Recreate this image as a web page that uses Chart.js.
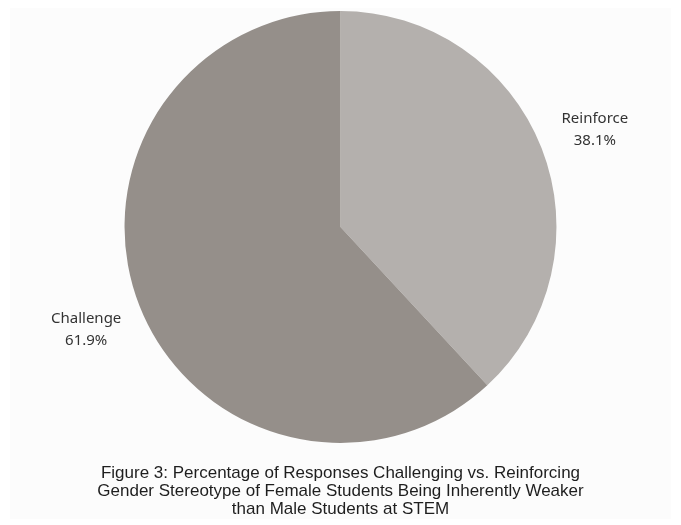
<!DOCTYPE html>
<html>
<head>
<meta charset="utf-8">
<script src="https://cdn.jsdelivr.net/npm/chart.js@4"></script>
<style>
  html, body { margin: 0; padding: 0; background: #ffffff; }
  #wrap { width: 681px; height: 525px; position: relative; }
  #chart { display: block; }
</style>
</head>
<body>
<div id="wrap"><canvas id="chart" width="681" height="525"></canvas></div>
<script>
// responses to the gender stereotype prompt, in percent
const sliceLabels = ["Reinforce", "Challenge"];
const sliceValues = [38.1, 61.9];
const sliceColors = ["#b4b0ad", "#958f8a"];

const titleLines = [
    "Figure 3: Percentage of Responses Challenging vs. Reinforcing",
    "Gender Stereotype of Female Students Being Inherently Weaker",
    "than Male Students at STEM",
];

// very faint off-white panel behind everything, inset a little from the edge
const panelBg = {
    id: "panelBg",
    beforeDraw(chart) {
        const ctx = chart.ctx;
        ctx.save();
        ctx.fillStyle = "#fcfcfc";
        ctx.fillRect(10, 8, chart.width - 20, chart.height - 14);
        ctx.restore();
    },
};

// name + percent outside each slice, along its mid angle
const outsideLabels = {
    id: "outsideLabels",
    afterDatasetsDraw(chart) {
        const ctx = chart.ctx;
        const arcs = chart.getDatasetMeta(0).data;
        ctx.save();
        ctx.fillStyle = "#333333";
        ctx.font = "15px 'Noto Sans', sans-serif";
        ctx.textAlign = "center";
        ctx.textBaseline = "middle";
        arcs.forEach((arc, i) => {
            const p = arc.getProps(["x", "y", "startAngle", "endAngle", "outerRadius"], true);
            const mid = (p.startAngle + p.endAngle) / 2;
            const d = p.outerRadius * 1.265;
            const x = p.x + Math.cos(mid) * d;
            const y = p.y + Math.sin(mid) * d + 3;
            ctx.fillText(sliceLabels[i], x, y - 11);
            ctx.fillText(sliceValues[i].toFixed(1) + "%", x, y + 11);
        });
        ctx.restore();
    },
};

new Chart(document.getElementById("chart"), {
    type: "pie",
    data: {
        labels: sliceLabels,
        datasets: [{
            data: sliceValues,
            backgroundColor: sliceColors,
            borderWidth: 0,
        }],
    },
    options: {
        responsive: false,
        animation: false,
        layout: { padding: { top: 11, bottom: 0, left: 0, right: 0 } },
        plugins: {
            legend: { display: false },
            tooltip: { enabled: false },
            title: {
                display: true,
                position: "bottom",
                text: titleLines,
                color: "#1e1e1e",
                font: { family: "'Liberation Sans', Arial, sans-serif", size: 17, weight: "normal", lineHeight: 1.06 },
                padding: { top: 21, bottom: 7 },
            },
        },
    },
    plugins: [panelBg, outsideLabels],
});
</script>
</body>
</html>
